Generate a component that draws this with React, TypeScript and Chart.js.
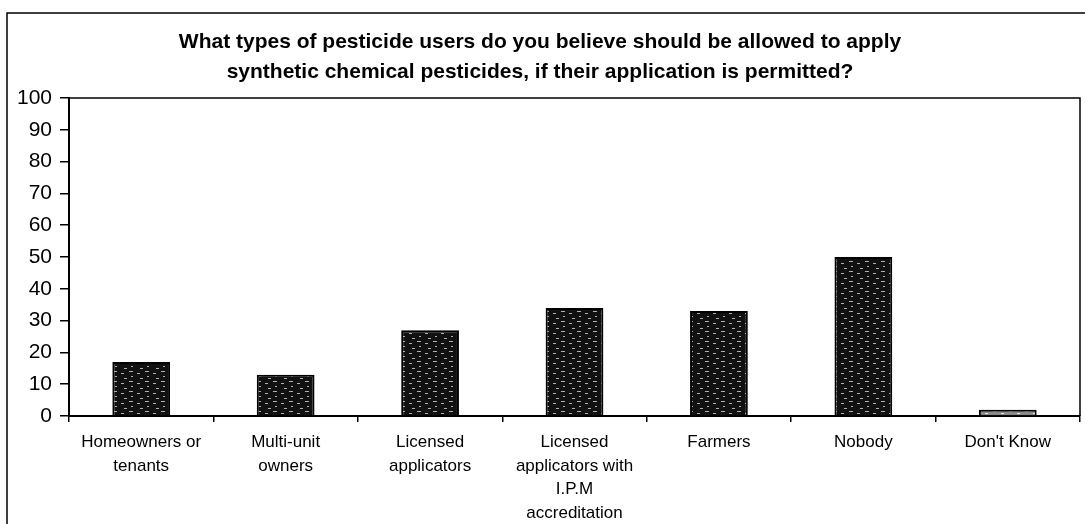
import React, { useEffect, useRef } from "react";
import { Chart, registerables } from "chart.js";

Chart.register(...registerables);

const titleLines = [
  "What types of pesticide users do you believe should be allowed to apply",
  "synthetic chemical pesticides, if their application is permitted?",
];
const categories: string[][] = [
  ["Homeowners or", "tenants"],
  ["Multi-unit", "owners"],
  ["Licensed", "applicators"],
  ["Licensed", "applicators with", "I.P.M", "accreditation"],
  ["Farmers"],
  ["Nobody"],
  ["Don't Know"],
];
const values = [17, 13, 27, 34, 33, 50, 2];
const yMin = 0;
const yMax = 100;
const yStep = 10;

const FONT = "'Liberation Sans', Arial, sans-serif";

function makePattern(dark: string, light: string): CanvasPattern | string {
  const c = document.createElement("canvas");
  c.width = 16;
  c.height = 10;
  const g = c.getContext("2d");
  if (!g) return dark;
  g.fillStyle = dark;
  g.fillRect(0, 0, 16, 10);
  g.fillStyle = light;
  g.fillRect(1, 1, 4, 1);
  g.fillRect(9, 3, 3, 1);
  g.fillRect(3, 6, 2, 1);
  g.fillRect(12, 8, 3, 1);
  const p = g.createPattern(c, "repeat");
  return p || dark;
}

export default function App() {
  const ref = useRef<HTMLCanvasElement | null>(null);
  useEffect(() => {
    if (!ref.current) return;
    const pat = makePattern("#111111", "#b0b0b0");
    const patLight = makePattern("#8a8a8a", "#e0e0e0");
    const frame = {
      id: "frame",
      beforeDraw(chart: any) {
        const ctx = chart.ctx;
        ctx.save();
        ctx.strokeStyle = "#000";
        ctx.lineWidth = 1.5;
        ctx.beginPath();
        ctx.moveTo(7, 530);
        ctx.lineTo(7, 13);
        ctx.lineTo(1090, 13);
        ctx.stroke();
        ctx.restore();
      },
      afterDraw(chart: any) {
        const { left, top, right, bottom } = chart.chartArea;
        const ctx = chart.ctx;
        ctx.save();
        ctx.strokeStyle = "#000";
        ctx.lineWidth = 1.5;
        ctx.beginPath();
        ctx.moveTo(left, top);
        ctx.lineTo(right, top);
        ctx.lineTo(right, bottom);
        ctx.stroke();
        ctx.restore();
      },
    };
    const chart = new Chart(ref.current, {
      type: "bar",
      data: {
        labels: categories,
        datasets: [
          {
            data: values,
            backgroundColor: values.map((_, i) => (i === values.length - 1 ? patLight : pat)) as any,
            borderColor: "#000",
            borderWidth: 2,
            barPercentage: 0.4,
            categoryPercentage: 1,
          },
        ],
      },
      options: {
        animation: false,
        responsive: false,
        maintainAspectRatio: false,
        layout: { padding: { left: 0, right: 5, top: 0, bottom: 0 } },
        plugins: {
          legend: { display: false },
          tooltip: { enabled: false },
          title: {
            display: true,
            text: titleLines,
            color: "#000",
            font: { family: FONT, size: 21, weight: "bold", lineHeight: 1.43 },
            padding: { top: 27, bottom: 11 },
          },
        },
        scales: {
          x: {
            offset: true,
            grid: {
              offset: true,
              drawOnChartArea: false,
              drawTicks: true,
              tickLength: 6,
              color: "#000",
              lineWidth: 1.5,
            },
            border: { color: "#000", width: 2 },
            ticks: {
              color: "#000",
              font: { family: FONT, size: 17, lineHeight: 1.38 },
              padding: 9,
              maxRotation: 0,
              autoSkip: false,
            },
            afterFit(scale: any) {
              scale.height = 108;
            },
          },
          y: {
            min: yMin,
            max: yMax,
            grid: {
              drawOnChartArea: false,
              drawTicks: true,
              tickLength: 9,
              color: "#000",
              lineWidth: 1.5,
            },
            border: { color: "#000", width: 2 },
            ticks: {
              stepSize: yStep,
              color: "#000",
              font: { family: FONT, size: 21 },
              padding: 8,
            },
            afterFit(scale: any) {
              scale.width = 69;
            },
          },
        },
      },
      plugins: [frame],
    });
    return () => chart.destroy();
  }, []);
  return (
    <div style={{ position: "fixed", left: 0, top: 0, width: 1085, height: 524, background: "#fff" }}>
      <canvas ref={ref} width={1085} height={524} style={{ width: 1085, height: 524, display: "block" }} />
    </div>
  );
}
